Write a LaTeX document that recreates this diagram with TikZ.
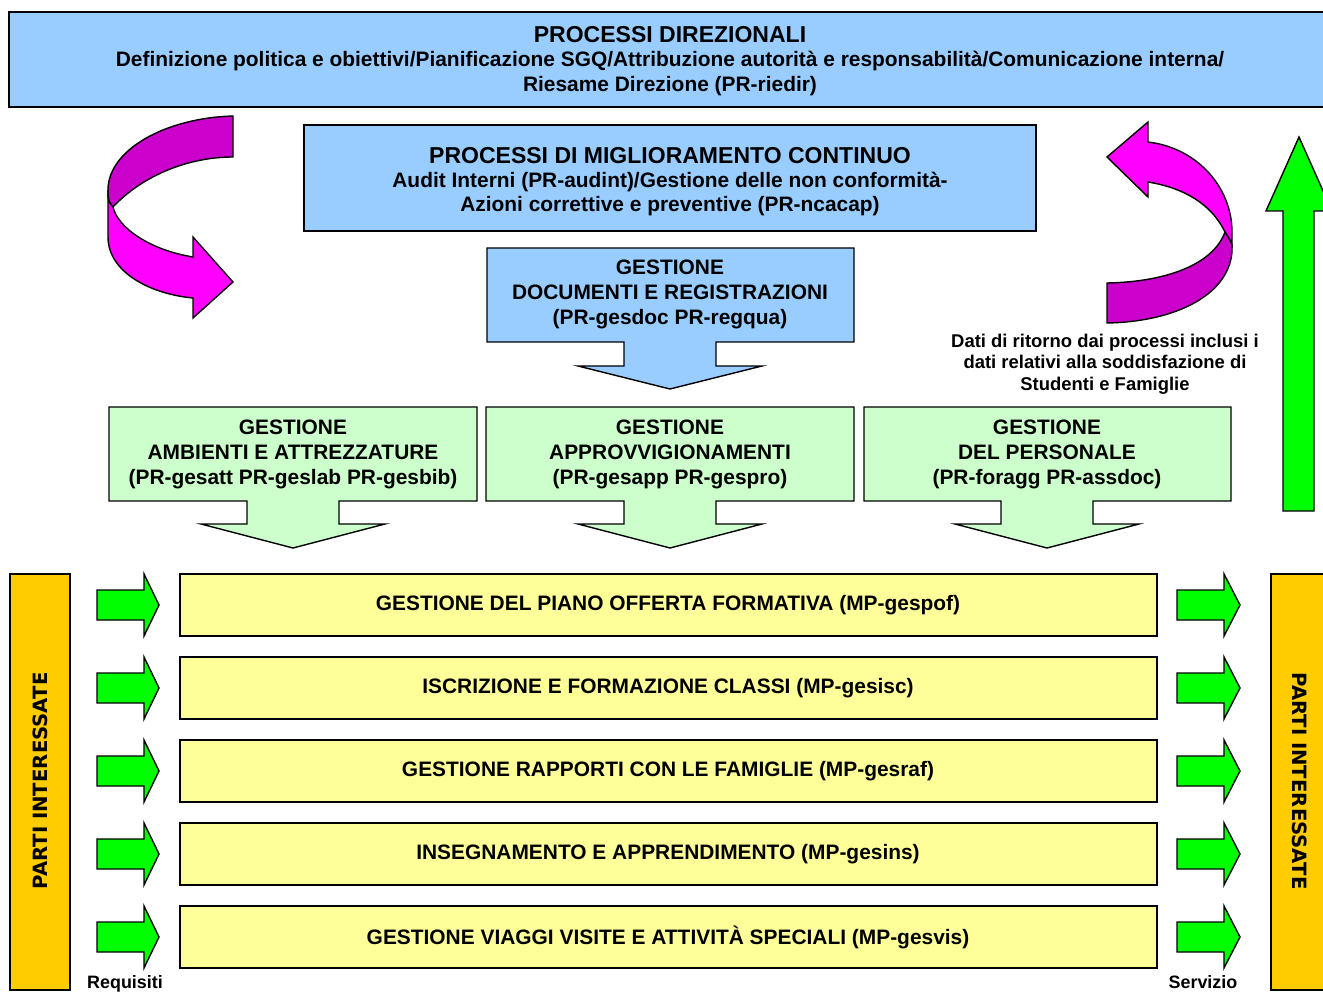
\documentclass[tikz,border=0pt]{standalone}
\usepackage{fontspec}
\setmainfont{Liberation Sans}
\newfontfamily\sidefont{DejaVu Sans}
\definecolor{procblue}{HTML}{99CCFF}
\definecolor{procgreen}{HTML}{CCFFCC}
\definecolor{rowyellow}{HTML}{FFFF99}
\definecolor{partorange}{HTML}{FFCC00}
\definecolor{flowgreen}{HTML}{00FF00}
\definecolor{loopmag}{HTML}{FF00FF}
\definecolor{loopdark}{HTML}{CC00CC}
\tikzset{
	boxline/.style={draw=black, line width=0.8pt},
	bodytext/.style={font=\bfseries\fontsize{11.9}{14.2}\selectfont, align=center},
	headtext/.style={font=\bfseries\fontsize{13.1}{14.2}\selectfont, align=center},
	sidetext/.style={font=\sidefont\bfseries\fontsize{11.2}{12}\selectfont},
	notetext/.style={font=\bfseries\fontsize{10.5}{12.2}\selectfont, align=center}
}
\begin{document}
\begin{tikzpicture}[x=0.02cm,y=-0.02cm]
			\tikzstyle{every node}+=[inner sep=0pt]
			\useasboundingbox (0,0) rectangle (1323,993);
			\draw [boxline, fill=procblue] (9,12) rectangle (1330,107);
			\node [headtext] (dirtitle) at (670,35) {PROCESSI DIREZIONALI};
			\node [bodytext] (dirtext) at (670,73.5) {Definizione politica e obiettivi/Pianificazione SGQ/Attribuzione autorità e responsabilità/Comunicazione interna/\\Riesame Direzione (PR-riedir)};
			\draw [boxline, fill=procblue] (304,125) rectangle (1036,231);
			\node [headtext] (migtitle) at (670,156) {PROCESSI DI MIGLIORAMENTO CONTINUO};
			\node [bodytext] (migtext) at (670,194) {Audit Interni (PR-audint)/Gestione delle non conformità-\\Azioni correttive e preventive (PR-ncacap)};
			\draw [boxline, fill=procblue] (487,248) -- (854,248) -- (854,342) -- (716,342) -- (716,366) -- (762,366) -- (670,389) -- (578,366) -- (624,366) -- (624,342) -- (487,342) -- cycle;
			\node [bodytext] (docs) at (670,294) {GESTIONE\\DOCUMENTI E REGISTRAZIONI\\(PR-gesdoc PR-regqua)};
			\foreach \xa/\xb/\c/\n/\t in {109/477/293/amb/{GESTIONE\\AMBIENTI E ATTREZZATURE\\(PR-gesatt PR-geslab PR-gesbib)},
				486/854/670/app/{GESTIONE\\APPROVVIGIONAMENTI\\(PR-gesapp PR-gespro)},
				864/1231/1047/pers/{GESTIONE\\DEL PERSONALE\\(PR-foragg PR-assdoc)}}{
				\draw [boxline, fill=procgreen] (\xa,407) -- (\xb,407) -- (\xb,501) -- (\c+46,501) -- (\c+46,524) -- (\c+92,524) -- (\c,548) -- (\c-92,524) -- (\c-46,524) -- (\c-46,501) -- (\xa,501) -- cycle;
				\node [bodytext] (\n) at (\c,454) {\t};
			}
			\node [notetext] (ritorno) at (1105,364) {Dati di ritorno dai processi inclusi i\\dati relativi alla soddisfazione di\\Studenti e Famiglie};
			\draw [boxline, fill=flowgreen] (1283,511) -- (1283,211) -- (1266,211) -- (1299,137) -- (1332,211) -- (1314,211) -- (1314,511) -- cycle;
			\draw [boxline, fill=loopdark] (233,116) .. controls (165,118) and (108,150) .. (108,190) -- (108,196) .. controls (109,202) .. (113,207) .. controls (140,178) and (185,157) .. (233,157) -- cycle;
			\draw [boxline, fill=loopmag] (108,190) -- (108,237) .. controls (108,272) and (150,294) .. (193,298) -- (193,318) -- (233,282) -- (193,237) -- (193,257) .. controls (150,250) and (118,228) .. (113,207) .. controls (109,202) .. (108,196);
			\draw [boxline, fill=loopmag] (1107,157) -- (1148,122) -- (1148,142) .. controls (1198,148) and (1232,188) .. (1232,232) -- (1232,245) .. controls (1230,240) .. (1225,232) .. controls (1212,205) and (1185,188) .. (1148,182) -- (1148,197) -- cycle;
			\draw [boxline, fill=loopdark] (1225,232) .. controls (1230,240) .. (1232,245) -- (1232,252) .. controls (1228,298) and (1170,322) .. (1107,323) -- (1107,283) .. controls (1165,282) and (1213,265) .. (1225,232) -- cycle;
			\draw [boxline, fill=partorange] (10,574) rectangle (70,990);
			\node [sidetext, rotate=90] (partiL) at (40,781) {PARTI INTERESSATE};
			\draw [boxline, fill=partorange] (1271,574) rectangle (1330,990);
			\node [sidetext, rotate=-90] (partiR) at (1300,781) {PARTI INTERESSATE};
			\foreach \y/\n/\t in {605/pof/{GESTIONE DEL PIANO OFFERTA FORMATIVA (MP-gespof)},
				688/isc/{ISCRIZIONE E FORMAZIONE CLASSI (MP-gesisc)},
				771/raf/{GESTIONE RAPPORTI CON LE FAMIGLIE (MP-gesraf)},
				854/ins/{INSEGNAMENTO E APPRENDIMENTO (MP-gesins)},
				937/vis/{GESTIONE VIAGGI VISITE E ATTIVITÀ SPECIALI (MP-gesvis)}}{
				\draw [boxline, fill=rowyellow] (180,\y-31) rectangle (1157,\y+31);
				\node [bodytext] (\n) at (668,\y) {\t};
				\draw [boxline, fill=flowgreen] (97,\y-15) -- (144,\y-15) -- (144,\y-31) -- (159,\y) -- (144,\y+31) -- (144,\y+15) -- (97,\y+15) -- cycle;
				\draw [boxline, fill=flowgreen] (1177,\y-15) -- (1224,\y-15) -- (1224,\y-31) -- (1240,\y) -- (1224,\y+31) -- (1224,\y+15) -- (1177,\y+15) -- cycle;
			}
			\node [notetext, font=\bfseries\fontsize{10.2}{12}\selectfont, anchor=base] (requisiti) at (125,988) {Requisiti};
			\node [notetext, font=\bfseries\fontsize{10.2}{12}\selectfont, anchor=base] (servizio) at (1203,988) {Servizio};
		\end{tikzpicture}
\end{document}
